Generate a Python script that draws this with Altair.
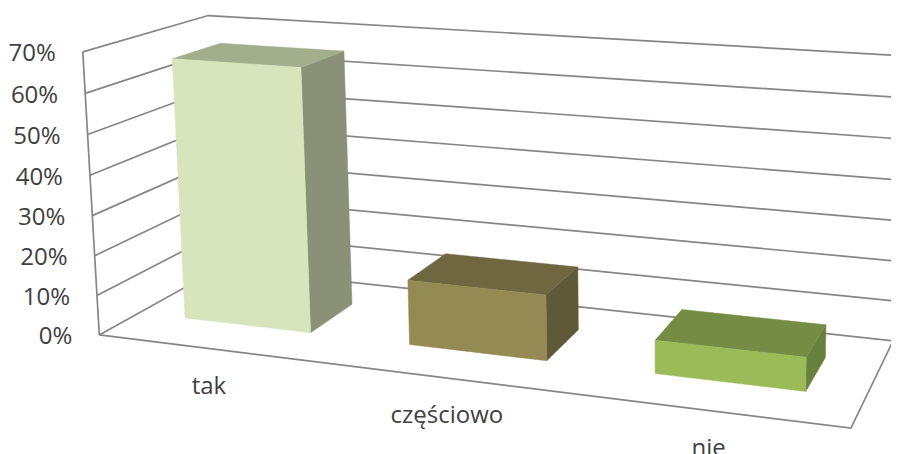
import altair as alt
import numpy as np
import pandas as pd

categories = ["tak", "częściowo", "nie"]
values = [0.66, 0.16, 0.08]
ticks = [0, 0.1, 0.2, 0.3, 0.4, 0.5, 0.6, 0.7]
tick_labels = ["0%", "10%", "20%", "30%", "40%", "50%", "60%", "70%"]
front = ["#D8E4BC", "#948A54", "#9BBB59"]
top = ["#A3AE8D", "#6F673F", "#748C43"]
side = ["#8A9177", "#5E5A38", "#67803B"]
GRID = "#868686"
TEXT = "#404040"

# camera calibration of the 3D box: (category, value, depth) -> picture position
calib = [
    ((0, 0, 0), (99, 335)), ((0, .7, 0), (83, 52)),
    ((0, 0, 1), (220, 268)), ((0, .7, 1), (208, 15.5)),
    ((3, 0, 1), (893, 341)), ((3, 0, 0), (851, 428)),
    ((3, .7, 1), (900, 55.5)),
]
A, b = [], []
for (X, Y, Z), (u, v) in calib:
    A.append([X, Y, Z, 1, 0, 0, 0, 0, -u * X, -u * Y, -u * Z]); b.append(u)
    A.append([0, 0, 0, 0, X, Y, Z, 1, -v * X, -v * Y, -v * Z]); b.append(v)
p = np.linalg.lstsq(np.array(A, float), np.array(b, float), rcond=None)[0]
P = np.append(p, 1).reshape(3, 4)


def proj(X, Y, Z):
    h = P @ np.array([X, Y, Z, 1.0])
    return h[0] / h[2], h[1] / h[2]


# bar extent inside its category and inside the depth of the box
BAR_X0, BAR_X1 = 0.213, 0.783
BAR_Z0, BAR_Z1 = 0.31, 0.71

lines, polys = [], []


def add_line(name, pts):
    for i, q in enumerate(pts):
        x, y = proj(*q)
        lines.append({"id": name, "i": i, "x": x, "y": y})


for t in ticks:
    add_line(f"g{t}", [(0, t, 0), (0, t, 1), (3, t, 1)])
add_line("axis", [(0, 0, 0), (0, 0.7, 0)])
add_line("floor", [(0, 0, 0), (3, 0, 0), (3, 0, 1)])


def add_poly(name, color, pts):
    for i, q in enumerate(pts):
        x, y = proj(*q)
        polys.append({"id": name, "i": i, "x": x, "y": y, "color": color})


for k, v in enumerate(values):
    x0, x1 = k + BAR_X0, k + BAR_X1
    z0, z1 = BAR_Z0, BAR_Z1
    add_poly(f"{k}a", side[k], [(x1, 0, z0), (x1, 0, z1), (x1, v, z1), (x1, v, z0)])
    add_poly(f"{k}b", top[k], [(x0, v, z0), (x1, v, z0), (x1, v, z1), (x0, v, z1)])
    add_poly(f"{k}c", front[k], [(x0, 0, z0), (x1, 0, z0), (x1, v, z0), (x0, v, z0)])

tick_rows = []
for t, lab in zip(ticks, tick_labels):
    x, y = proj(0, t, 0)
    tick_rows.append({"x": x - 27, "y": y + 2.5, "label": lab})
cat_rows = []
for k, c in enumerate(categories):
    x, y = proj(k + 0.5, 0, 0)
    cat_rows.append({"x": x - 1.5, "y": y + 38, "label": c})

X = alt.X("x:Q", scale=alt.Scale(domain=[8, 891]), axis=None)
Y = alt.Y("y:Q", scale=alt.Scale(domain=[454, 8]), axis=None)

grid = alt.Chart(pd.DataFrame(lines)).mark_line(color=GRID, strokeWidth=1.7).encode(
    x=X, y=Y, detail="id:N", order="i:Q")
bars = alt.Chart(pd.DataFrame(polys)).mark_line(
    filled=True, interpolate="linear-closed", strokeWidth=0.5
).encode(
    x=X, y=Y, detail="id:N", order="i:Q",
    fill=alt.Fill("color:N", scale=None),
    stroke=alt.Stroke("color:N", scale=None),
)
tick_text = alt.Chart(pd.DataFrame(tick_rows)).mark_text(
    align="right", baseline="middle", font="Open Sans", fontSize=24, color=TEXT
).encode(x=X, y=Y, text="label:N")
cat_text = alt.Chart(pd.DataFrame(cat_rows)).mark_text(
    align="center", baseline="middle", font="Open Sans", fontSize=24, color=TEXT
).encode(x=X, y=Y, text="label:N")

chart = alt.layer(grid, bars, tick_text, cat_text).properties(
    width=883, height=446, padding=0, autosize=alt.AutoSizeParams(type="none"), background="white"
).configure_view(stroke=None)

chart.save("out.html", embed_options={"renderer": "svg", "actions": False})
